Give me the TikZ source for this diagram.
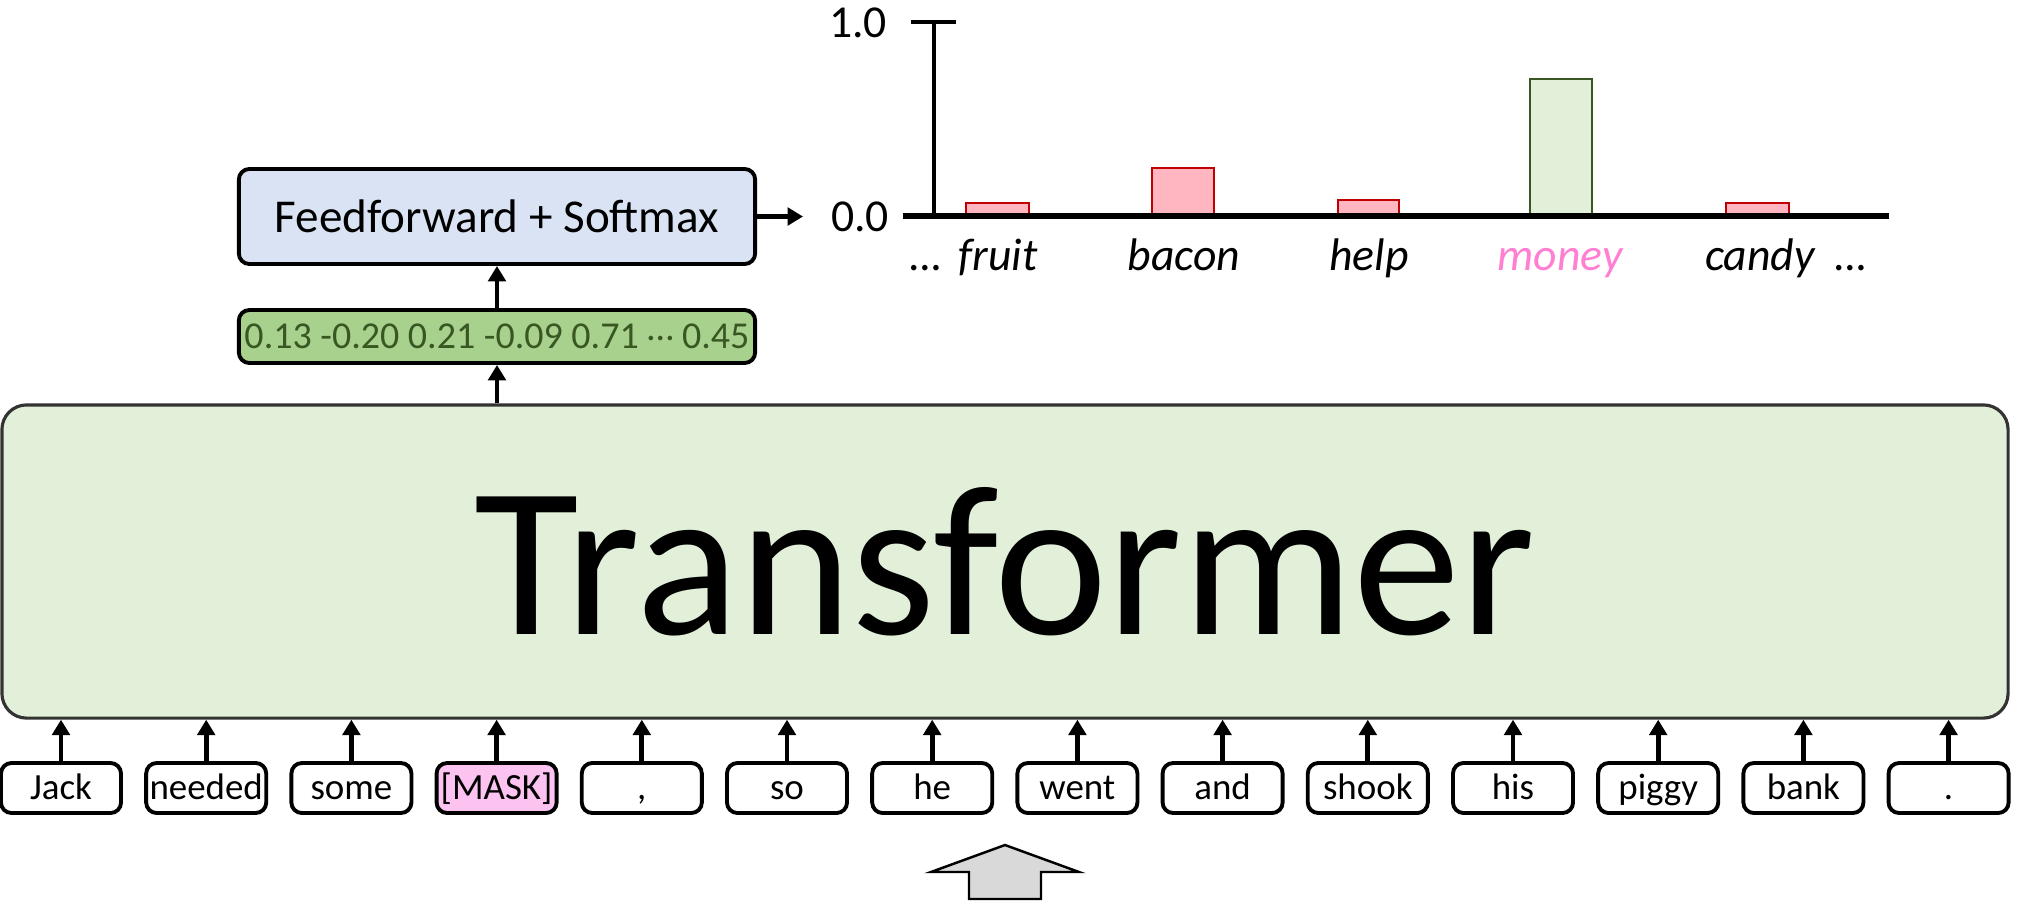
\documentclass[tikz,border=0pt]{standalone}
\usepackage{fontspec}
\setmainfont{Carlito}
\usetikzlibrary{arrows.meta}

\definecolor{transfill}{RGB}{226,240,217}
\definecolor{fffill}{RGB}{218,227,243}
\definecolor{vecfill}{RGB}{169,209,142}
\definecolor{vectext}{RGB}{56,87,35}
\definecolor{maskfill}{RGB}{252,195,240}
\definecolor{barred}{RGB}{192,0,0}
\definecolor{barpink}{RGB}{255,182,193}
\definecolor{moneypink}{RGB}{255,128,210}
\definecolor{blockgray}{RGB}{217,217,217}

\tikzset{
  tokbox/.style={draw, line width=1.1pt, rounded corners=3pt, minimum width=1.2cm, minimum height=0.5cm,
    inner sep=0pt, text height=6.8pt, text depth=0.2pt, font=\fontsize{10.5}{12}\selectfont},
  redbar/.style={draw=barred, fill=barpink, line width=0.6pt},
  greenbar/.style={draw=vectext, fill=transfill, line width=0.6pt},
  wordlbl/.style={anchor=base, font=\fontsize{13}{15}\selectfont\itshape},
}

\begin{document}
\begin{tikzpicture}[x=0.01cm, y=-0.01cm, >={Triangle[length=4.4pt,width=5pt]}, line width=1.35pt]
  \useasboundingbox (0,0) rectangle (2017,905);

  % Transformer 主体
  \node[draw=black!80, line width=0.9pt, fill=transfill, rounded corners=7pt, minimum width=20.05cm, minimum height=3.13cm,
    font=\fontsize{61}{66}\selectfont] (trans) at (1005,561.5) {Transformer};

  % 输入词
  \foreach \w/\c [count=\i] in {Jack/white, needed/white, some/white, {[MASK]}/maskfill, {,}/white, so/white, he/white,
      went/white, and/white, shook/white, his/white, piggy/white, bank/white, ./white} {
    \node[tokbox, fill=\c] (tok\i) at ({61+145.2*(\i-1)},788) {\w};
    \draw[->] (tok\i.north) -- (tok\i.north |- trans.south);
  }

  % 下方灰色箭头
  \draw[fill=blockgray, line width=0.7pt] (969,899) -- (969,872) -- (931,872) -- (1005,845) -- (1079,872)
    -- (1041,872) -- (1041,899) -- cycle;

  % 输出向量与 Feedforward
  \node[draw, line width=1.1pt, fill=vecfill, text=vectext, rounded corners=3pt, minimum width=5.16cm, minimum height=0.53cm,
    inner sep=0pt, font=\fontsize{10.8}{12}\selectfont] (vec) at (497,336.5)
    {0.13 -0.20 0.21 -0.09 0.71 \raisebox{0.22em}{…} 0.45};
  \node[draw, line width=1.1pt, fill=fffill, rounded corners=3pt, minimum width=5.16cm, minimum height=0.95cm,
    inner sep=0pt, font=\fontsize{13.4}{15}\selectfont] (ff) at (497,216.5) {Feedforward + Softmax};
  \draw[->] (vec.south |- trans.north) -- (vec.south);
  \draw[->] (vec.north) -- (ff.south);
  \coordinate (axin) at (803,216.5);
  \draw[->] (ff.east) -- (axin);

  % 坐标轴
  \draw[line width=0.9pt] (934,216) -- (934,22);
  \draw[line width=1.3pt] (911,22) -- (956,22);
  \node[font=\fontsize{13}{15}\selectfont] (one) at (858,23) {1.0};
  \node[font=\fontsize{13}{15}\selectfont] (zero) at (860,217) {0.0};

  % 概率柱
  \draw[redbar] (966,214) rectangle (1029,203);
  \draw[redbar] (1152,214) rectangle (1214,168);
  \draw[redbar] (1338,214) rectangle (1399,200);
  \draw[greenbar] (1530,214) rectangle (1592,79);
  \draw[redbar] (1726,214) rectangle (1789,203);
  \draw[line width=1.5pt] (903,216) -- (1889,216);

  % 候选词
  \node[wordlbl] (dotsl) at (926,270) {…};
  \node[wordlbl] (fruit) at (998,270) {fruit};
  \node[wordlbl] (bacon) at (1184,270) {bacon};
  \node[wordlbl] (help) at (1369,270) {help};
  \node[wordlbl, text=moneypink] (money) at (1560,270) {money};
  \node[wordlbl] (candy) at (1760,270) {candy};
  \node[wordlbl] (dotsr) at (1851,270) {…};
\end{tikzpicture}
\end{document}
